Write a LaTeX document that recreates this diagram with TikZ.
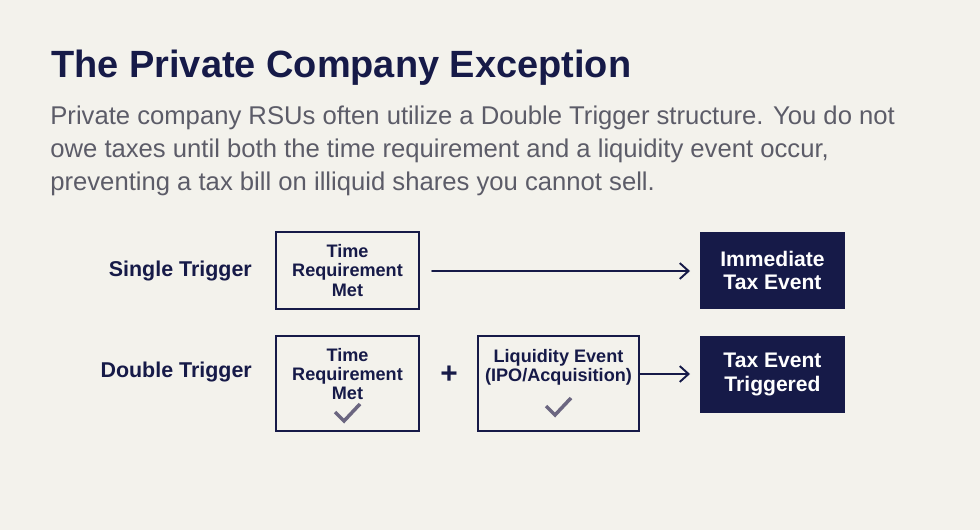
\documentclass[tikz,border=0pt]{standalone}
\usepackage{fontspec}
\setmainfont{Liberation Sans}
\usetikzlibrary{positioning,arrows.meta}
\definecolor{bgcol}{HTML}{F3F2EC}
\definecolor{navy}{HTML}{161A48}
\definecolor{bodygray}{HTML}{5C5C68}
\definecolor{checkgray}{HTML}{6B6680}
\tikzset{
  box/.style={draw=navy,line width=1.2pt,fill=bgcol,text=navy,font=\fontsize{10.3}{11}\selectfont\bfseries,align=center,inner sep=0pt},
  boxtext/.style={text=navy,font=\fontsize{10.3}{11}\selectfont\bfseries,align=center,inner sep=0pt},
  darkbox/.style={fill=navy,text=white,font=\fontsize{12}{13.2}\selectfont\bfseries,align=center,inner sep=0pt,minimum width=2.9cm,minimum height=1.54cm},
  rowlabel/.style={text=navy,font=\fontsize{12.2}{13}\selectfont\bfseries,anchor=east},
  line/.style={navy,line width=1.1pt,line cap=round,-{Straight Barb[length=5pt,width=9pt]}}
}
\begin{document}
\begin{tikzpicture}[x=0.02cm,y=-0.02cm]
\fill[bgcol] (0,0) rectangle (980,530);
\node[anchor=west,text=navy,font=\fontsize{21.6}{24}\selectfont\bfseries,inner sep=0pt] (title) at (51,68) {The Private Company Exception};
\node[anchor=north west,text=bodygray,font=\fontsize{14.6}{18.6}\selectfont,align=left,inner sep=0pt] (body) at (50,106) {Private company RSUs often utilize a Double Trigger structure. You do not\\owe taxes until both the time requirement and a liquidity event occur,\\preventing a tax bill on illiquid shares you cannot sell.};
% single trigger row
\node[rowlabel] (single) at (258,271) {Single Trigger};
\node[box,minimum width=2.86cm,minimum height=1.54cm] (time1) at (347.5,270.5) {Time\\Requirement\\Met};
\node[darkbox] (immediate) at (772.5,270.5) {Immediate\\Tax Event};
\coordinate (tip1) at (690,271);
\draw[line] (432,271) -- (tip1);
% double trigger row
\node[rowlabel] (double) at (258,372) {Double Trigger};
\node[box,minimum width=2.86cm,minimum height=1.9cm] (time2) at (347.5,383.5) {};
\node[boxtext] (time2txt) at (347.5,374) {Time\\Requirement\\Met};
\node[box,minimum width=3.22cm,minimum height=1.9cm] (liquid) at (558.5,383.5) {};
\node[boxtext] (liquidtxt) at (558.5,367) {Liquidity Event\\(IPO/Acquisition)};
\node[text=navy,font=\fontsize{17}{17}\selectfont\bfseries,inner sep=0pt] (plus) at (449,375) {+};
\node[darkbox] (triggered) at (772.5,374.5) {Tax Event\\Triggered};
\coordinate (tip2) at (690,374);
\draw[line] (liquid.east |- tip2) -- (tip2);
\draw[checkgray,line width=2pt] (335,412) -- (344,421) -- (360,404);
\draw[checkgray,line width=2pt] (546,406) -- (555,415) -- (571,398);
\end{tikzpicture}
\end{document}
